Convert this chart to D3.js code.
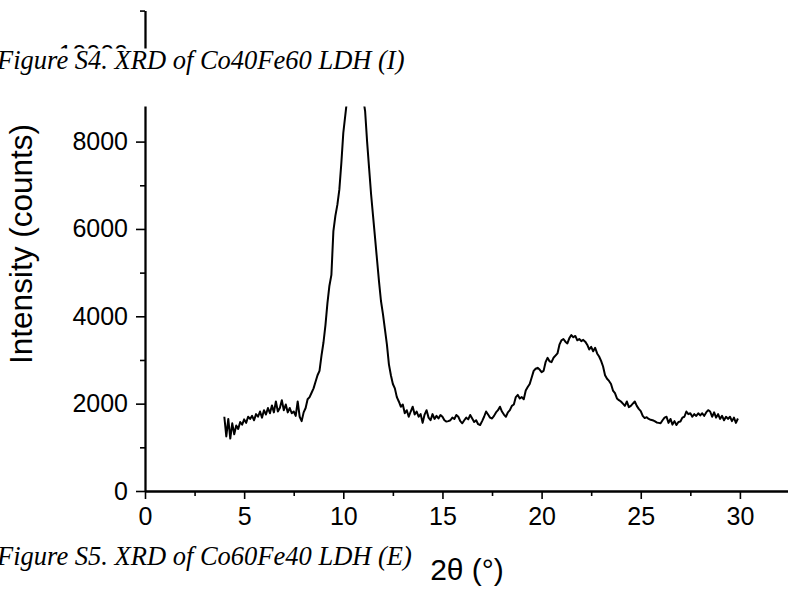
<!DOCTYPE html>
<html>
<head>
<meta charset="utf-8">
<script src="https://cdn.jsdelivr.net/npm/d3@7"></script>
<style>
  html, body { margin: 0; padding: 0; background: #fff; }
  svg { display: block; }
</style>
</head>
<body>
<svg id="chart" width="788" height="589"></svg>
<script>
// ---- data ----
const angleStart = 4.0;     // 2θ of the first sample (°)
const angleStep = 0.1;      // spacing of the samples (°)
const intensity = [
  1700,1250,1650,1200,1550,1300,1500,1420,1580,1520,   // 4.0 - 4.9
  1640,1560,1700,1650,1720,1620,1760,1700,1820,1680,   // 5.0 - 5.9
  1850,1750,1900,1780,1960,1800,2050,1820,1900,2080,   // 6.0 - 6.9
  1850,1980,1800,1900,1780,1820,1720,2050,1700,1600,   // 7.0 - 7.9
  1800,1900,2100,2150,2250,2350,2500,2650,2750,3100,   // 8.0 - 8.9
  3400,3800,4300,4700,4950,5950,6300,6550,6900,7500,   // 9.0 - 9.9
  8200,8600,9000,9400,9700,9850,9900,9850,9700,9400,   // 10.0 - 10.9
  9000,8700,8000,7400,6800,6300,5800,5300,4800,4350,   // 11.0 - 11.9
  4050,3700,3350,2900,2650,2450,2350,2150,2050,1930,   // 12.0 - 12.9
  1980,1780,1850,1700,1820,1930,1750,1820,1700,1760,   // 13.0 - 13.9
  1560,1750,1850,1680,1620,1760,1650,1720,1660,1740,   // 14.0 - 14.9
  1700,1620,1590,1600,1620,1680,1650,1740,1700,1600,   // 15.0 - 15.9
  1550,1620,1680,1640,1740,1660,1580,1620,1530,1510,   // 16.0 - 16.9
  1600,1700,1820,1750,1680,1660,1720,1800,1850,1930,   // 17.0 - 17.9
  1820,1750,1700,1800,1850,1950,1980,2150,2200,2120,   // 18.0 - 18.9
  2150,2100,2300,2380,2450,2600,2750,2800,2820,2780,   // 19.0 - 19.9
  2720,2750,2950,3050,2970,2950,3050,3100,3150,3350,   // 20.0 - 20.9
  3450,3480,3420,3380,3500,3570,3520,3550,3450,3480,   // 21.0 - 21.9
  3430,3460,3420,3350,3240,3300,3200,3280,3150,3080,   // 22.0 - 22.9
  2980,2850,2650,2570,2520,2450,2300,2240,2120,2080,   // 23.0 - 23.9
  2050,2000,1950,2050,1920,1950,2000,2050,1950,1880,   // 24.0 - 24.9
  1830,1720,1670,1690,1650,1630,1620,1600,1570,1560,   // 25.0 - 25.9
  1550,1620,1680,1700,1560,1650,1520,1600,1510,1580,   // 26.0 - 26.9
  1590,1680,1700,1820,1760,1780,1700,1760,1720,1780,   // 27.0 - 27.9
  1730,1780,1720,1800,1850,1820,1700,1800,1680,1760,   // 28.0 - 28.9
  1650,1720,1620,1700,1650,1700,1600,1680,1560,1660    // 29.0 - 29.9
];
const xMajorTicks = [0, 5, 10, 15, 20, 25, 30];
const xMinorTicks = [2.5, 7.5, 12.5, 17.5, 22.5, 27.5, 32.5];
const yMajorTicks = [0, 2000, 4000, 6000, 8000, 10000];
const yMinorTicks = [1000, 3000, 5000, 7000, 9000, 11000];
const xTitle = "2θ (°)";
const yTitle = "Intensity (counts)";
const captionTop = "Figure S4. XRD of Co40Fe60 LDH (I)";
const captionBottom = "Figure S5. XRD of Co60Fe40 LDH (E)";

const points = intensity.map((v, i) => ({ t: +(angleStart + i * angleStep).toFixed(2), v }));

// ---- layout ----
const svg = d3.select("#chart");
const left = 145, bottom = 491;
const x = d3.scaleLinear().domain([0, 32.5]).range([left, left + 32.5 * 19.83]);
const y = d3.scaleLinear().domain([0, 11000]).range([bottom, bottom - 11 * 43.675]);

const sans = "'Liberation Sans', Arial, sans-serif";
const serif = "'Liberation Serif', 'Times New Roman', serif";

// data line
svg.append("path")
  .datum(points)
  .attr("fill", "none")
  .attr("stroke", "#000")
  .attr("stroke-width", 2)
  .attr("stroke-linejoin", "round")
  .attr("d", d3.line().x(d => x(d.t)).y(d => y(d.v)));

function styleAxis(g) {
  g.select(".domain").attr("stroke", "#000").attr("stroke-width", 1.8);
  g.selectAll(".tick line").attr("stroke", "#000").attr("stroke-width", 1.6);
  g.selectAll(".tick text").attr("fill", "#000")
    .style("font-family", sans).style("font-size", "25px");
}

// x axis (minor then major)
svg.append("g").attr("transform", `translate(0,${bottom})`)
  .call(d3.axisBottom(x).tickValues(xMinorTicks).tickSize(5).tickSizeOuter(0).tickFormat(""))
  .call(styleAxis);
svg.append("g").attr("transform", `translate(0,${bottom})`)
  .call(d3.axisBottom(x).tickValues(xMajorTicks).tickSize(8).tickSizeOuter(0).tickPadding(8).tickFormat(d3.format("d")))
  .call(styleAxis);

// y axis
svg.append("g").attr("transform", `translate(${left},0)`)
  .call(d3.axisLeft(y).tickValues(yMinorTicks).tickSize(5).tickSizeOuter(0).tickFormat(""))
  .call(styleAxis);
svg.append("g").attr("transform", `translate(${left},0)`)
  .call(d3.axisLeft(y).tickValues(yMajorTicks).tickSize(9).tickSizeOuter(0).tickPadding(8).tickFormat(d3.format("d")))
  .call(styleAxis);

// axis titles
svg.append("text")
  .attr("transform", `translate(32,${244}) rotate(-90)`)
  .attr("text-anchor", "middle")
  .style("font-family", sans).style("font-size", "31.5px")
  .text(yTitle);

svg.append("text")
  .attr("x", 467).attr("y", 580)
  .attr("text-anchor", "middle")
  .style("font-family", sans).style("font-size", "30px")
  .text(xTitle);

// caption band overlapping the top of the plot
svg.append("rect").attr("x", 0).attr("y", 48.5).attr("width", 788).attr("height", 58).attr("fill", "#fff");
svg.append("text")
  .attr("x", -3).attr("y", 69)
  .style("font-family", serif).style("font-style", "italic").style("font-size", "26.5px")
  .text(captionTop);

svg.append("text")
  .attr("x", -3).attr("y", 565)
  .style("font-family", serif).style("font-style", "italic").style("font-size", "26.5px")
  .text(captionBottom);
</script>
</body>
</html>
